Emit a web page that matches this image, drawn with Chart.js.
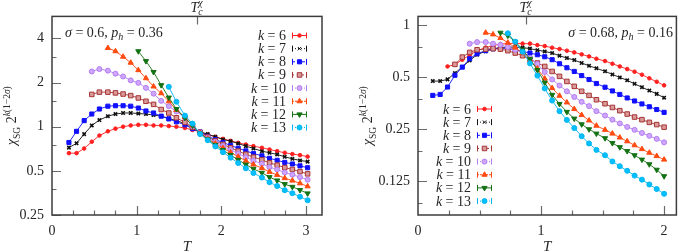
<!DOCTYPE html>
<html>
<head>
<meta charset="utf-8">
<script src="https://cdn.jsdelivr.net/npm/chart.js@4.4.0/dist/chart.umd.min.js"></script>
<style>
    body { margin: 0; background: #fff; }
    #wrap { position: relative; width: 682px; height: 252px; }
    canvas { position: absolute; top: 0; }
</style>
</head>
<body>
<div id="wrap">
    <canvas id="panelA" width="341" height="252" style="left:0"></canvas>
    <canvas id="panelB" width="341" height="252" style="left:341px"></canvas>
</div>
<script>
// ---- data, left panel (sigma = 0.6, p_h = 0.36) ----
const tempsA = [0.2, 0.29, 0.38, 0.47, 0.56, 0.66, 0.75, 0.84, 0.93, 1.02, 1.11, 1.2, 1.29, 1.38, 1.47, 1.57,
    1.66, 1.75, 1.84, 1.93, 2.02, 2.11, 2.2, 2.29, 2.38, 2.48, 2.57, 2.66, 2.75, 2.84, 2.93, 3.02];
const k6A = [0.66, 0.66, 0.71, 0.79, 0.87, 0.93, 0.97, 1.0, 1.02, 1.03, 1.03, 1.02, 1.02, 1.01, 1.0, 0.98,
    0.95, 0.925, 0.884, 0.853, 0.826, 0.801, 0.776, 0.756, 0.737, 0.718, 0.699, 0.681, 0.664, 0.651, 0.64, 0.625];
const k7A = [0.72, 0.77, 0.89, 1.02, 1.11, 1.18, 1.22, 1.24, 1.24, 1.23, 1.22, 1.2, 1.18, 1.14, 1.1, 1.05,
    0.97, 0.92, 0.89, 0.853, 0.818, 0.797, 0.768, 0.737, 0.711, 0.681, 0.664, 0.647, 0.623, 0.604, 0.589, 0.578];
const k8A = [0.78, 0.93, 1.1, 1.22, 1.32, 1.38, 1.39, 1.39, 1.38, 1.34, 1.28, 1.24, 1.18, 1.13, 1.08, 1.03,
    0.97, 0.92, 0.86, 0.818, 0.78, 0.745, 0.713, 0.684, 0.657, 0.633, 0.609, 0.59, 0.571, 0.557, 0.541, 0.525];
const k9A = [null, null, null, 1.66, 1.72, 1.72, 1.7, 1.67, 1.63, 1.57, 1.49, 1.42, 1.31, 1.24, 1.15, 1.07,
    0.99, 0.915, 0.85, 0.801, 0.758, 0.719, 0.682, 0.649, 0.62, 0.594, 0.567, 0.547, 0.526, 0.511, 0.494, 0.477];
const k10A = [null, null, null, 2.38, 2.47, 2.41, 2.3, 2.2, 2.07, 1.99, 1.84, 1.68, 1.5, 1.38, 1.27, 1.15,
    1.01, 0.91, 0.841, 0.786, 0.738, 0.695, 0.655, 0.619, 0.587, 0.559, 0.53, 0.51, 0.487, 0.471, 0.453, 0.435];
const k11A = [null, null, null, null, null, 3.44, 3.27, 3.0, 2.73, 2.43, 2.14, 1.88, 1.69, 1.49, 1.3, 1.16,
    1.02, 0.905, 0.83, 0.769, 0.715, 0.668, 0.624, 0.585, 0.552, 0.522, 0.492, 0.469, 0.446, 0.429, 0.411, 0.392];
const k12A = [null, null, null, null, null, null, null, null, null, 3.27, 2.8, 2.36, 1.92, 1.58, 1.32, 1.15,
    1.02, 0.9, 0.82, 0.752, 0.693, 0.641, 0.594, 0.552, 0.516, 0.485, 0.453, 0.43, 0.406, 0.389, 0.37, 0.351];
const k13A = [null, null, null, null, null, null, null, null, null, null, null, null, null, 1.87, 1.48, 1.19,
    1.05, 0.89, 0.809, 0.734, 0.67, 0.615, 0.565, 0.521, 0.483, 0.45, 0.418, 0.394, 0.369, 0.352, 0.333, 0.315];

// ---- data, right panel (sigma = 0.68, p_h = 0.16) ----
const tempsB = [0.12, 0.18, 0.24, 0.3, 0.36, 0.42, 0.48, 0.55, 0.61, 0.67, 0.73, 0.79, 0.85, 0.91, 0.97, 1.03,
    1.09, 1.15, 1.21, 1.27, 1.33, 1.39, 1.45, 1.52, 1.58, 1.64, 1.7, 1.76, 1.82, 1.88, 1.94, 2.0];
const k6B = [null, null, 0.576, 0.59, 0.63, 0.67, 0.71, 0.74, 0.76, 0.775, 0.78, 0.785, 0.78, 0.78, 0.765, 0.755,
    0.739, 0.726, 0.71, 0.694, 0.676, 0.658, 0.638, 0.619, 0.597, 0.576, 0.556, 0.537, 0.516, 0.492, 0.47, 0.448];
const k7B = [0.474, 0.474, 0.485, 0.527, 0.571, 0.624, 0.673, 0.706, 0.728, 0.74, 0.745, 0.745, 0.74, 0.73, 0.715, 0.703,
    0.688, 0.664, 0.644, 0.627, 0.603, 0.581, 0.562, 0.54, 0.518, 0.498, 0.479, 0.457, 0.437, 0.418, 0.4, 0.38];
const k8B = [0.392, 0.397, 0.438, 0.512, 0.571, 0.638, 0.682, 0.71, 0.728, 0.735, 0.73, 0.718, 0.703, 0.688, 0.673, 0.655,
    0.63, 0.597, 0.566, 0.539, 0.51, 0.484, 0.459, 0.437, 0.416, 0.397, 0.379, 0.364, 0.35, 0.337, 0.325, 0.313];
const k9B = [null, null, null, 0.592, 0.652, 0.694, 0.719, 0.725, 0.729, 0.725, 0.71, 0.688, 0.664, 0.635, 0.603, 0.576,
    0.539, 0.505, 0.472, 0.442, 0.414, 0.392, 0.37, 0.351, 0.334, 0.32, 0.306, 0.294, 0.284, 0.274, 0.266, 0.257];
const k10B = [null, null, null, null, null, 0.779, 0.796, 0.796, 0.779, 0.768, 0.745, 0.719, 0.69, 0.645, 0.595, 0.535,
    0.485, 0.447, 0.414, 0.384, 0.36, 0.34, 0.318, 0.3, 0.284, 0.27, 0.258, 0.248, 0.238, 0.229, 0.22, 0.21];
const k11B = [null, null, null, null, null, null, null, 0.902, 0.882, 0.84, 0.79, 0.74, 0.685, 0.625, 0.56, 0.49,
    0.432, 0.39, 0.357, 0.327, 0.302, 0.281, 0.262, 0.248, 0.236, 0.224, 0.213, 0.202, 0.192, 0.183, 0.175, 0.167];
const k12B = [null, null, null, null, null, null, null, null, null, 0.902, 0.868, 0.8, 0.72, 0.635, 0.55, 0.465,
    0.395, 0.35, 0.315, 0.288, 0.267, 0.25, 0.236, 0.222, 0.208, 0.197, 0.187, 0.177, 0.167, 0.157, 0.146, 0.134];
const k13B = [null, null, null, null, null, null, null, null, null, null, 0.895, 0.8, 0.7, 0.6, 0.51, 0.43,
    0.366, 0.318, 0.283, 0.254, 0.228, 0.207, 0.19, 0.177, 0.163, 0.153, 0.144, 0.135, 0.128, 0.12, 0.113, 0.106];

// ---- axes ----
const kLabels = ['6', '7', '8', '9', '10', '11', '12', '13'];
const xTicksA = [0, 1, 2, 3];
const xLabelsA = ['0', '1', '2', '3'];
const yTicksA = [0.25, 0.5, 1, 2, 4];
const yLabelsA = ['0.25', '0.5', '1', '2', '4'];
const xTicksB = [0, 1, 2];
const xLabelsB = ['0', '1', '2'];
const yTicksB = [0.125, 0.25, 0.5, 1];
const yLabelsB = ['0.125', '0.25', '0.5', '1'];
const tcA = 1.71;
const tcB = 0.88;
const sigmaA = '0.6', phA = '0.36';
const sigmaB = '0.68', phB = '0.16';

const SERIF = '"Liberation Serif", "DejaVu Serif", serif';
const INK = '#262626';
const FRAME = '#3c3c3c';
const TICK = '#6a6a6a';

// marker / line style for k = 6 ... 13
const styles = [
    { color: '#ff1f1f', fill: '#ff1f1f', point: 'circle', radius: 1.8, rot: 0, dash: [] },
    { color: '#111111', fill: '#111111', point: 'crossRot', radius: 2.4, rot: 0, dash: [1, 2] },
    { color: '#1010ff', fill: '#1010ff', point: 'rect', radius: 2.9, rot: 0, dash: [3, 2] },
    { color: '#a83434', fill: '#d89a9a', point: 'rect', radius: 3.2, rot: 0, dash: [2, 3] },
    { color: '#b47cf0', fill: '#cda6ff', point: 'circle', radius: 2.5, rot: 0, dash: [1, 2] },
    { color: '#ff4a10', fill: '#ff4a10', point: 'triangle', radius: 3.0, rot: 0, dash: [2, 1] },
    { color: '#147214', fill: '#147214', point: 'triangle', radius: 3.0, rot: 180, dash: [] },
    { color: '#00b4f0', fill: '#00c0ff', point: 'circle', radius: 2.5, rot: 0, dash: [1, 2] }
];

Chart.defaults.font.family = SERIF;
Chart.defaults.font.size = 14;
Chart.defaults.color = INK;

const panels = [
    {
        canvas: 'panelA', temps: tempsA, series: [k6A, k7A, k8A, k9A, k10A, k11A, k12A, k13A],
        xMax: 3.19, yMin: 0.25, yMax: 5.65, xTicks: xTicksA, xLabels: xLabelsA,
        yTicks: yTicksA, yLabels: yLabelsA, tc: tcA, sigma: sigmaA, ph: phA,
        axisWidth: 52, padRight: 19, noteX: 65, noteAlign: 'left',
        legendX: 286, legendY: 35, titleX: 16
    },
    {
        canvas: 'panelB', temps: tempsB, series: [k6B, k7B, k8B, k9B, k10B, k11B, k12B, k13B],
        xMax: 2.1, yMin: 0.08, yMax: 1.12, xTicks: xTicksB, xLabels: xLabelsB,
        yTicks: yTicksB, yLabels: yLabelsB, tc: tcB, sigma: sigmaB, ph: phB,
        axisWidth: 77, padRight: 1, noteX: 332, noteAlign: 'right',
        legendX: 130, legendY: 108.5, titleX: 31
    }
];

panels.forEach(makePanel);

function fontOf(part) {
    return (part.it ? 'italic ' : '') + (part.size || 14) + 'px ' + SERIF;
}

// draws a run of text pieces (italic, sub/superscripts) on one baseline
function drawParts(ctx, parts, x, y, align) {
    let width = 0;
    parts.forEach(p => {
        ctx.font = fontOf(p);
        p.w = p.stack ? 0 : ctx.measureText(p.t).width;
        width += p.w;
    });
    let cx = align === 'right' ? x - width : align === 'center' ? x - width / 2 : x;
    parts.forEach(p => {
        ctx.font = fontOf(p);
        ctx.fillText(p.t, cx, y + (p.dy || 0));
        cx += p.w;
    });
}

function drawMarker(ctx, s, x, y) {
    ctx.fillStyle = s.fill;
    ctx.strokeStyle = s.color;
    const opts = { pointStyle: s.point, radius: s.radius, rotation: s.rot, borderWidth: s.point === 'crossRot' ? 1.6 : 1 };
    if (Chart.helpers && Chart.helpers.drawPoint) {
        Chart.helpers.drawPoint(ctx, opts, x, y);
    } else {
        ctx.beginPath();
        ctx.arc(x, y, s.radius, 0, Math.PI * 2);
        ctx.fill();
    }
}

function makeDecor(p) {
    return {
        id: 'decor',
        afterDraw(chart) {
            const ctx = chart.ctx;
            const a = chart.chartArea;
            const xs = chart.scales.x;
            const ys = chart.scales.y;
            ctx.save();

            // inward ticks, gnuplot style
            ctx.strokeStyle = TICK;
            ctx.lineWidth = 1.2;
            ctx.beginPath();
            for (let v = 0.25; v < p.xMax; v += 0.25) {
                const px = Math.round(xs.getPixelForValue(v)) + 0.5;
                const len = Math.abs(v - Math.round(v)) < 1e-6 ? 9 : 4.5;
                ctx.moveTo(px, a.bottom);
                ctx.lineTo(px, a.bottom - len);
            }
            p.yTicks.forEach(v => {
                const py = Math.round(ys.getPixelForValue(v)) + 0.5;
                ctx.moveTo(a.left, py);
                ctx.lineTo(a.left + 9, py);
            });
            [p.yTicks[0] / 2].concat(p.yTicks).map(v => v * 1.5)
                .filter(v => v > p.yMin && v < p.yMax)
                .forEach(v => {
                    const py = Math.round(ys.getPixelForValue(v)) + 0.5;
                    ctx.moveTo(a.left, py);
                    ctx.lineTo(a.left + 4.5, py);
                });
            const tx = Math.round(xs.getPixelForValue(p.tc)) + 0.5;
            ctx.moveTo(tx, a.top);
            ctx.lineTo(tx, a.top + 8);
            ctx.stroke();

            // frame
            ctx.strokeStyle = FRAME;
            ctx.lineWidth = 1.5;
            ctx.strokeRect(a.left, a.top, a.right - a.left, a.bottom - a.top);

            ctx.fillStyle = INK;
            ctx.textBaseline = 'alphabetic';
            ctx.textAlign = 'left';

            // T_c^chi on the top axis
            drawParts(ctx, [
                { t: 'T', it: true, size: 14 },
                { t: 'c', it: true, size: 10, dy: 3, stack: true },
                { t: 'χ', it: true, size: 10, dy: -6 }
            ], tx - 1, 12, 'center');

            // parameters
            drawParts(ctx, [
                { t: 'σ', it: true },
                { t: ' = ' + p.sigma + ', ' },
                { t: 'p', it: true },
                { t: 'h', it: true, size: 10, dy: 3 },
                { t: ' = ' + p.ph }
            ], p.noteX, 36.5, p.noteAlign);

            // axis titles
            drawParts(ctx, [{ t: 'T', it: true, size: 15 }], (a.left + a.right) / 2, 251, 'center');
            ctx.save();
            ctx.translate(p.titleX, (a.top + a.bottom) / 2);
            ctx.rotate(-Math.PI / 2);
            drawParts(ctx, [
                { t: 'χ', it: true, size: 14 },
                { t: 'SG', size: 9.5, dy: 3.5 },
                { t: ' 2', size: 14 },
                { t: 'k', it: true, size: 9.5, dy: -6 },
                { t: '(1−2', size: 9.5, dy: -6 },
                { t: 'σ', it: true, size: 9.5, dy: -6 },
                { t: ')', size: 9.5, dy: -6 }
            ], 0, 0, 'center');
            ctx.restore();

            // legend
            styles.forEach((s, j) => {
                const y = p.legendY + 13.15 * j;
                ctx.fillStyle = INK;
                drawParts(ctx, [{ t: 'k', it: true }, { t: ' = ' + kLabels[j] }], p.legendX, y + 5, 'right');
                const x0 = p.legendX + 6, x1 = p.legendX + 21;
                ctx.strokeStyle = s.color;
                ctx.lineWidth = 1;
                ctx.setLineDash(s.dash);
                ctx.beginPath();
                ctx.moveTo(x0, y + 0.5);
                ctx.lineTo(x1, y + 0.5);
                ctx.stroke();
                ctx.setLineDash([]);
                ctx.beginPath();
                ctx.moveTo(x0 + 0.5, y - 2.5);
                ctx.lineTo(x0 + 0.5, y + 3.5);
                ctx.moveTo(x1 - 0.5, y - 2.5);
                ctx.lineTo(x1 - 0.5, y + 3.5);
                ctx.stroke();
                drawMarker(ctx, s, (x0 + x1) / 2, y + 0.5);
            });

            ctx.restore();
        }
    };
}

function makePanel(p) {
    const ctx = document.getElementById(p.canvas).getContext('2d');

    const datasets = p.series.map((vals, j) => {
        const s = styles[j];
        return {
            label: 'k = ' + kLabels[j],
            data: p.temps.map((t, i) => ({ x: t, y: vals[i] })).filter(d => d.y !== null),
            borderColor: s.color,
            backgroundColor: s.fill,
            borderWidth: 0.9,
            pointStyle: s.point,
            pointRotation: s.rot,
            pointRadius: s.radius,
            pointBorderWidth: s.point === 'crossRot' ? 1.6 : 1,
            pointBackgroundColor: s.fill,
            pointBorderColor: s.color,
            tension: 0,
            order: styles.length - j
        };
    });

    new Chart(ctx, {
        type: 'line',
        data: { datasets: datasets },
        options: {
            responsive: false,
            animation: false,
            devicePixelRatio: 1,
            events: [],
            layout: { padding: { left: 0, right: p.padRight, top: 16, bottom: 0 } },
            plugins: {
                legend: { display: false },
                tooltip: { enabled: false }
            },
            scales: {
                x: {
                    type: 'linear',
                    min: 0,
                    max: p.xMax,
                    bounds: 'data',
                    grid: { display: false, drawTicks: false },
                    border: { display: false },
                    ticks: {
                        autoSkip: false,
                        maxRotation: 0,
                        padding: 8,
                        color: INK,
                        font: { family: SERIF, size: 14 },
                        callback: (v, i) => p.xLabels[i]
                    },
                    afterBuildTicks: scale => { scale.ticks = p.xTicks.map(v => ({ value: v })); },
                    afterFit: scale => { scale.height = 37; }
                },
                y: {
                    type: 'logarithmic',
                    min: p.yMin,
                    max: p.yMax,
                    bounds: 'data',
                    grid: { display: false, drawTicks: false },
                    border: { display: false },
                    ticks: {
                        autoSkip: false,
                        padding: 8,
                        color: INK,
                        font: { family: SERIF, size: 14 },
                        callback: (v, i) => p.yLabels[i]
                    },
                    afterBuildTicks: scale => { scale.ticks = p.yTicks.map(v => ({ value: v })); },
                    afterFit: scale => { scale.width = p.axisWidth; }
                }
            }
        },
        plugins: [makeDecor(p)]
    });
}
</script>
</body>
</html>
